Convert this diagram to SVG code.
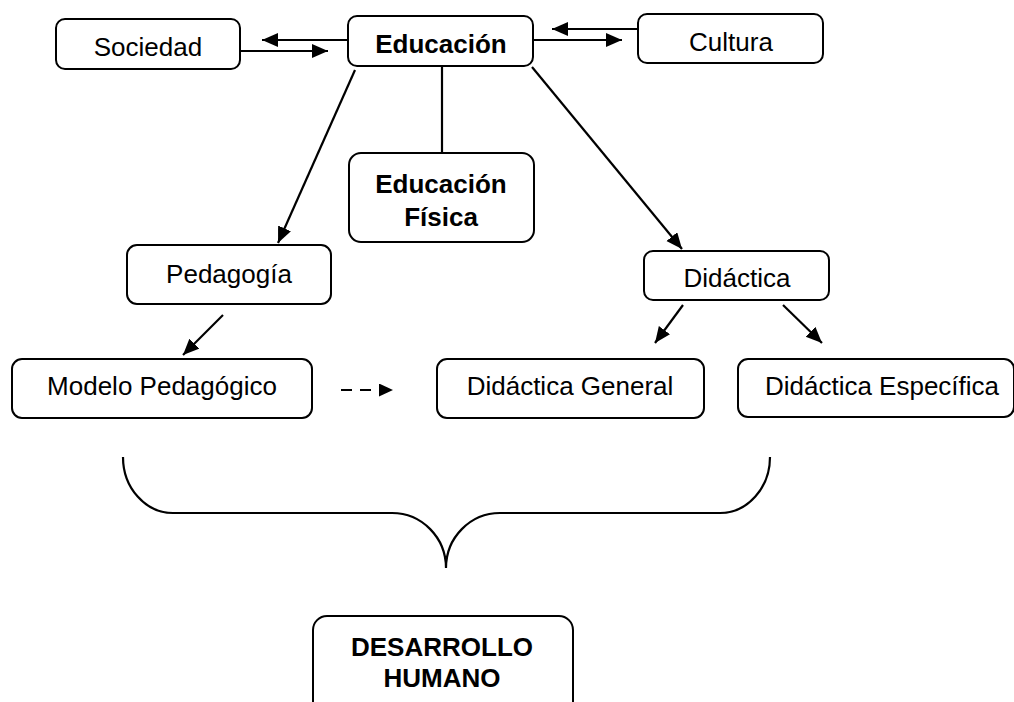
<svg xmlns="http://www.w3.org/2000/svg" width="1014" height="702" viewBox="0 0 1014 702">
<style>
.box{fill:#fff;stroke:#000;stroke-width:2}
.t{font-family:"Liberation Sans",Arial,sans-serif;font-size:26px;fill:#000;text-anchor:middle}
.b{font-weight:bold}
.c{stroke:#000;stroke-width:2.2;fill:none}
</style>
<defs>
<marker id="ah" markerUnits="userSpaceOnUse" markerWidth="18" markerHeight="16" refX="16" refY="7" orient="auto">
<path d="M0,0 L16,7 L0,14 Z" fill="#000"/>
</marker>
<marker id="ahs" markerUnits="userSpaceOnUse" markerWidth="15" markerHeight="15" refX="14" refY="6.5" orient="auto">
<path d="M0,0 L14,6.5 L0,13 Z" fill="#000"/>
</marker>
<clipPath id="socClip"><rect x="56" y="19" width="184" height="38.5"/></clipPath>
</defs>
<rect width="1014" height="702" fill="#fff"/>
<g id="connectors">
<line class="c" x1="348" y1="40" x2="262" y2="40" marker-end="url(#ah)"/>
<line class="c" x1="240" y1="51" x2="328" y2="51" marker-end="url(#ah)"/>
<line class="c" x1="638" y1="29" x2="552" y2="29" marker-end="url(#ah)"/>
<line class="c" x1="533" y1="40" x2="622" y2="40" marker-end="url(#ah)"/>
<line class="c" x1="442" y1="66" x2="442" y2="153"/>
<line class="c" x1="355" y1="70" x2="278" y2="243" marker-end="url(#ah)"/>
<line class="c" x1="532" y1="67" x2="682" y2="249" marker-end="url(#ah)"/>
<line class="c" x1="223" y1="315" x2="183" y2="355" marker-end="url(#ah)"/>
<line class="c" x1="683" y1="305" x2="655" y2="343" marker-end="url(#ah)"/>
<line class="c" x1="783" y1="305" x2="822" y2="343" marker-end="url(#ah)"/>
<line class="c" x1="341" y1="390" x2="393" y2="390" stroke-dasharray="11,8" marker-end="url(#ahs)"/>
<path class="c" d="M123,457 A50,56 0 0 0 173,513 L392,513 A54,55 0 0 1 446,568 A54,55 0 0 1 500,513 L720,513 A50,56 0 0 0 770,457"/>
</g>
<g id="sociedad">
<rect class="box" x="56" y="19" width="184" height="50" rx="9"/>
<text class="t" x="148" y="56" clip-path="url(#socClip)">Sociedad</text>
</g>
<g id="educacion">
<rect class="box" x="348" y="16" width="185" height="50" rx="9"/>
<text class="t b" x="441" y="53">Educación</text>
</g>
<g id="cultura">
<rect class="box" x="638" y="14" width="185" height="49" rx="9"/>
<text class="t" x="731" y="51">Cultura</text>
</g>
<g id="educacion-fisica">
<rect class="box" x="349" y="153" width="185" height="89" rx="12"/>
<text class="t b" x="441" y="193">Educación</text>
<text class="t b" x="441" y="226">Física</text>
</g>
<g id="pedagogia">
<rect class="box" x="127" y="245" width="204" height="59" rx="10"/>
<text class="t" x="229" y="283">Pedagogía</text>
</g>
<g id="didactica">
<rect class="box" x="644" y="251" width="185" height="49" rx="9"/>
<text class="t" x="737" y="287">Didáctica</text>
</g>
<g id="modelo-pedagogico">
<rect class="box" x="12" y="359" width="300" height="59" rx="10"/>
<text class="t" x="162" y="395">Modelo Pedagógico</text>
</g>
<g id="didactica-general">
<rect class="box" x="437" y="359" width="267" height="59" rx="10"/>
<text class="t" x="570" y="395">Didáctica General</text>
</g>
<g id="didactica-especifica">
<rect class="box" x="738" y="359" width="276" height="58" rx="10"/>
<text class="t" x="882" y="395">Didáctica Específica</text>
</g>
<g id="desarrollo-humano">
<rect class="box" x="313" y="616" width="260" height="100" rx="14"/>
<text class="t b" x="442" y="656">DESARROLLO</text>
<text class="t b" x="442" y="687">HUMANO</text>
</g>
</svg>
